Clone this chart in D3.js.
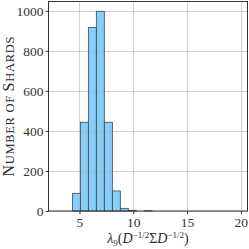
<!DOCTYPE html>
<html>
<head>
<meta charset="utf-8">
<script src="https://cdn.jsdelivr.net/npm/d3@7"></script>
<style>
	body { margin: 0; background: #fff; }
	text { font-family: "Liberation Serif", "DejaVu Serif", serif; fill: #2a2a2a; }
</style>
</head>
<body>
<svg id="hist" width="249" height="249"></svg>
<script>
// bin edges (left edge of each bar) and counts
const binEdges = [4.35, 5.09, 5.83, 6.57, 7.31, 8.06, 8.80, 9.54, 10.28, 11.02, 11.76];
const counts   = [88, 443, 916, 997, 443, 100, 13, 3, 0, 1];
const xTicks = [5, 10, 15, 20];
const yTicks = [0, 200, 400, 600, 800, 1000];
const xDomain = [2.12, 20.62];
const yDomain = [0, 1046];

const svg = d3.select("#hist");
const margin = {left: 48.5, right: 1.5, top: 1.5, bottom: 38};
const W = 249, H = 249;

const x = d3.scaleLinear().domain(xDomain).range([margin.left, W - margin.right]);
const y = d3.scaleLinear().domain(yDomain).range([H - margin.bottom, margin.top]);

const bars = counts.map((c, i) => ({x0: binEdges[i], x1: binEdges[i + 1], n: c}));

// bars
svg.append("g").selectAll("rect")
	.data(bars.filter(d => d.n > 0))
	.enter().append("rect")
	.attr("x", d => x(d.x0))
	.attr("width", d => x(d.x1) - x(d.x0))
	.attr("y", d => y(d.n))
	.attr("height", d => y(0) - y(d.n))
	.style("fill", "#87cefa");

// grid (drawn above the bar fill, like matplotlib)
const grid = svg.append("g").style("stroke", "#b0b0b0").style("stroke-opacity", 0.6).style("stroke-width", 1);
grid.selectAll(".gx").data(xTicks).enter().append("line")
	.attr("x1", d => Math.round(x(d)) + 0.5).attr("x2", d => Math.round(x(d)) + 0.5)
	.attr("y1", y.range()[0]).attr("y2", y.range()[1]);
grid.selectAll(".gy").data(yTicks).enter().append("line")
	.attr("y1", d => Math.round(y(d)) + 0.5).attr("y2", d => Math.round(y(d)) + 0.5)
	.attr("x1", x.range()[0]).attr("x2", x.range()[1]);

// bar edges
svg.append("g").selectAll("rect")
	.data(bars.filter(d => d.n > 0))
	.enter().append("rect")
	.attr("x", d => x(d.x0))
	.attr("width", d => x(d.x1) - x(d.x0))
	.attr("y", d => y(d.n))
	.attr("height", d => y(0) - y(d.n))
	.style("fill", "none")
	.style("stroke", "#4a5966")
	.style("stroke-width", 0.9);

// axes
const xAxis = svg.append("g")
	.attr("transform", "translate(0," + y(0) + ")")
	.call(d3.axisBottom(x).tickValues(xTicks).tickSize(3).tickPadding(3).tickFormat(d3.format("d")));
const yAxis = svg.append("g")
	.attr("transform", "translate(" + x.range()[0] + ",0)")
	.call(d3.axisLeft(y).tickValues(yTicks).tickSize(3).tickPadding(2).tickFormat(d3.format("d")));

[xAxis, yAxis].forEach(a => {
	a.select(".domain").remove();
	a.selectAll(".tick line").style("stroke", "#333");
	a.selectAll(".tick text")
		.style("font-family", "'Liberation Serif', serif")
		.style("font-size", "13.5px")
		.style("fill", "#333");
});

// frame
svg.append("rect")
	.attr("x", x.range()[0]).attr("y", y.range()[1])
	.attr("width", x.range()[1] - x.range()[0])
	.attr("height", y.range()[0] - y.range()[1])
	.style("fill", "none").style("stroke", "#333").style("stroke-width", 1);

// y label with small caps
const ylab = svg.append("text")
	.attr("transform", "translate(14," + ((y.range()[0] + y.range()[1]) / 2) + ") rotate(-90)")
	.attr("text-anchor", "middle")
	.style("letter-spacing", "0.7px");
[["N", 16], ["UMBER OF ", 12.5], ["S", 16], ["HARDS", 12.5]].forEach(p => {
	ylab.append("tspan").style("font-size", p[1] + "px").text(p[0]);
});

// x label
const xlab = svg.append("text")
	.attr("x", (x.range()[0] + x.range()[1]) / 2)
	.attr("y", 243)
	.attr("text-anchor", "middle")
	.style("font-size", "14px");
xlab.append("tspan").style("font-style", "italic").text("λ");
xlab.append("tspan").attr("dy", 3).style("font-size", "9px").text("9");
xlab.append("tspan").attr("dy", -3).text("(");
xlab.append("tspan").style("font-style", "italic").text("D");
xlab.append("tspan").attr("dy", -5).style("font-size", "9px").text("−1/2");
xlab.append("tspan").attr("dy", 5).text("Σ");
xlab.append("tspan").style("font-style", "italic").text("D");
xlab.append("tspan").attr("dy", -5).style("font-size", "9px").text("−1/2");
xlab.append("tspan").attr("dy", 5).text(")");
</script>
</body>
</html>
